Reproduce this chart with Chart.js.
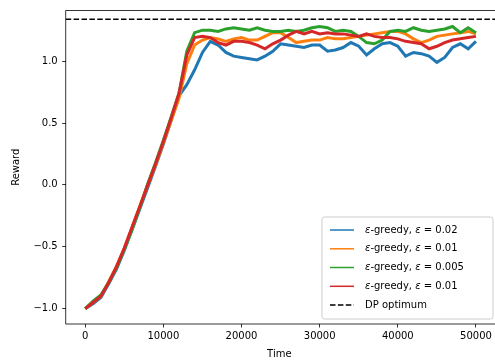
<!DOCTYPE html>
<html><head><meta charset="utf-8">
<script src="https://cdn.jsdelivr.net/npm/chart.js@4.4.0/dist/chart.umd.min.js"></script>
<style>html,body{margin:0;padding:0;overflow:hidden;background:#fff}</style>
</head><body><canvas id="c" width="497" height="364"></canvas>
<script>
const time = [0,1000,2000,3000,4000,5000,6000,7000,8000,9000,10000,11000,12000,13000,14000,15000,16000,17000,18000,19000,20000,21000,22000,23000,24000,25000,26000,27000,28000,29000,30000,31000,32000,33000,34000,35000,36000,37000,38000,39000,40000,41000,42000,43000,44000,45000,46000,47000,48000,49000,50000];

const eps002 = [-1.0,-0.96,-0.91,-0.80,-0.68,-0.53,-0.36,-0.19,-0.02,0.15,0.33,0.52,0.72,0.81,0.93,1.07,1.16,1.13,1.07,1.04,1.03,1.02,1.01,1.04,1.08,1.14,1.13,1.12,1.11,1.13,1.13,1.08,1.09,1.11,1.15,1.12,1.05,1.10,1.14,1.15,1.12,1.04,1.07,1.06,1.04,0.99,1.03,1.11,1.14,1.10,1.16];
const eps001a = [-1.0,-0.95,-0.90,-0.78,-0.66,-0.51,-0.34,-0.17,0.0,0.16,0.34,0.52,0.70,0.98,1.13,1.17,1.19,1.18,1.16,1.18,1.19,1.17,1.17,1.20,1.23,1.23,1.19,1.15,1.16,1.17,1.17,1.19,1.18,1.18,1.19,1.20,1.21,1.22,1.23,1.24,1.24,1.22,1.18,1.15,1.17,1.20,1.21,1.22,1.23,1.24,1.22];
const eps0005 = [-1.0,-0.94,-0.89,-0.79,-0.67,-0.52,-0.36,-0.18,0.01,0.18,0.36,0.55,0.74,1.08,1.23,1.25,1.25,1.24,1.26,1.27,1.26,1.25,1.27,1.25,1.24,1.24,1.25,1.24,1.25,1.27,1.28,1.27,1.24,1.25,1.24,1.20,1.15,1.14,1.17,1.24,1.25,1.24,1.27,1.25,1.24,1.25,1.26,1.28,1.23,1.27,1.23];
const eps001b = [-1.0,-0.95,-0.90,-0.79,-0.66,-0.51,-0.34,-0.17,0.0,0.17,0.35,0.54,0.74,1.05,1.19,1.20,1.19,1.15,1.13,1.16,1.16,1.15,1.13,1.10,1.14,1.17,1.21,1.24,1.22,1.24,1.22,1.23,1.22,1.22,1.21,1.20,1.22,1.20,1.19,1.19,1.18,1.16,1.15,1.14,1.10,1.12,1.15,1.17,1.18,1.19,1.20];
const dpOptimum = 1.338;

const seriesLabels = ["0.02","0.01","0.005","0.01"];
const seriesColors = ["#1f77b4","#ff7f0e","#2ca02c","#d62728"];
const xTicks = [0,10000,20000,30000,40000,50000];
const yTicks = [-1.0,-0.5,0.0,0.5,1.0];
const yTickLabels = ["\u22121.0","\u22120.5","0.0","0.5","1.0"];
const xLimits = [-2500, 52500];
const yLimits = [-1.124, 1.409];

const allSeries = [eps002, eps001a, eps0005, eps001b];
const FONT = "DejaVu Sans";

const datasets = allSeries.map((s, i) => ({
  label: "eps " + seriesLabels[i],
  data: time.map((t, k) => ({x: t, y: s[k]})),
  borderColor: seriesColors[i],
  borderWidth: 3,
  pointRadius: 0,
  tension: 0,
  order: 5 - i
}));
datasets.push({
  label: "DP optimum",
  data: [{x: xLimits[0], y: dpOptimum}, {x: xLimits[1], y: dpOptimum}],
  borderColor: "#000",
  borderWidth: 1.5,
  borderDash: [5.5, 2.4],
  pointRadius: 0,
  order: 0
});

function drawMixed(ctx, parts, x, y) {
  let cx = x;
  for (const [txt, it] of parts) {
    ctx.font = (it ? "italic " : "") + "10px '" + FONT + "'";
    ctx.fillText(txt, cx, y);
    cx += ctx.measureText(txt).width;
  }
}

const decor = {
  id: "decor",
  afterDatasetsDraw(chart) {
    const ctx = chart.ctx, a = chart.chartArea;
    ctx.save();
    ctx.strokeStyle = "#000";
    ctx.lineWidth = 0.8;
    ctx.beginPath();
    ctx.rect(a.left, a.top, a.right - a.left, a.bottom - a.top);
    ctx.stroke();
    ctx.restore();
  },
  afterDraw(chart) {
    const ctx = chart.ctx, a = chart.chartArea;
    ctx.save();
    ctx.fillStyle = "#000";
    ctx.font = "10px '" + FONT + "'";
    ctx.textAlign = "center";
    ctx.textBaseline = "middle";
    ctx.fillText("Time", (a.left + 495) / 2 - 1, 354);
    ctx.translate(16, (a.top + a.bottom) / 2);
    ctx.rotate(-Math.PI / 2);
    ctx.fillText("Reward", 0, 0);
    ctx.restore();

    // legend
    const bx = 322, by = 217, bw = 171, bh = 102, r = 2.5;
    ctx.save();
    ctx.beginPath();
    ctx.moveTo(bx + r, by);
    ctx.arcTo(bx + bw, by, bx + bw, by + bh, r);
    ctx.arcTo(bx + bw, by + bh, bx, by + bh, r);
    ctx.arcTo(bx, by + bh, bx, by, r);
    ctx.arcTo(bx, by, bx + bw, by, r);
    ctx.closePath();
    ctx.fillStyle = "rgba(255,255,255,0.8)";
    ctx.fill();
    ctx.strokeStyle = "#cccccc";
    ctx.lineWidth = 1;
    ctx.stroke();
    const rows = [230, 248.8, 267.5, 286.3, 305.1];
    ctx.textAlign = "left";
    ctx.textBaseline = "middle";
    ctx.fillStyle = "#000";
    for (let i = 0; i < 5; i++) {
      ctx.beginPath();
      ctx.moveTo(330, rows[i]);
      ctx.lineTo(354, rows[i]);
      if (i < 4) {
        ctx.strokeStyle = seriesColors[i];
        ctx.lineWidth = 1.5;
        ctx.setLineDash([]);
      } else {
        ctx.strokeStyle = "#000";
        ctx.lineWidth = 1.5;
        ctx.setLineDash([5.5, 2.4]);
      }
      ctx.stroke();
      ctx.setLineDash([]);
      if (i < 4) {
        drawMixed(ctx, [["\u03b5", true], ["-greedy, ", false], ["\u03b5", true], [" = " + seriesLabels[i], false]], 365, rows[i]);
      } else {
        ctx.font = "10px '" + FONT + "'";
        ctx.fillText("DP optimum", 365, rows[i]);
      }
    }
    ctx.restore();
  }
};

new Chart(document.getElementById("c"), {
  type: "line",
  data: {datasets},
  options: {
    responsive: false,
    animation: false,
    layout: {padding: {top: 4, right: 1.5, left: 0, bottom: 0}},
    plugins: {legend: {display: false}, tooltip: {enabled: false}},
    scales: {
      x: {
        type: "linear",
        min: xLimits[0], max: xLimits[1],
        afterBuildTicks: ax => { ax.ticks = xTicks.map(v => ({value: v})); },
        afterFit: ax => { ax.height = 40; },
        grid: {display: true, drawOnChartArea: false, drawTicks: true, tickLength: 3.5, color: "#000", lineWidth: 0.8},
        border: {display: false},
        ticks: {color: "#000", font: {family: FONT, size: 10}, padding: 3, maxRotation: 0, autoSkip: false, callback: v => String(v)}
      },
      y: {
        type: "linear",
        min: yLimits[0], max: yLimits[1],
        afterBuildTicks: ax => { ax.ticks = yTicks.map(v => ({value: v})); },
        afterFit: ax => { ax.width = 65.7; },
        grid: {display: true, drawOnChartArea: false, drawTicks: true, tickLength: 3.5, color: "#000", lineWidth: 0.8},
        border: {display: false},
        ticks: {color: "#000", font: {family: FONT, size: 10}, padding: 4.5, autoSkip: false,
          callback: v => { const i = yTicks.findIndex(t => Math.abs(t - v) < 1e-9); return i >= 0 ? yTickLabels[i] : ""; }}
      }
    }
  },
  plugins: [decor]
});
</script>
</body></html>
